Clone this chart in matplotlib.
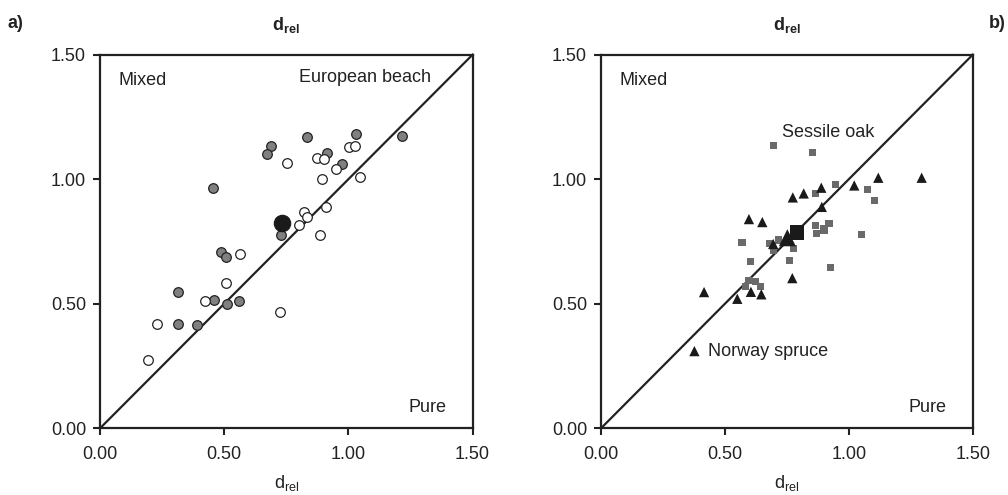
import matplotlib
matplotlib.use("Agg")
import matplotlib.pyplot as plt
from matplotlib import font_manager

# ---------------- data ----------------
ticks = [0.0, 0.5, 1.0, 1.5]
tick_labels = ["0.00", "0.50", "1.00", "1.50"]

# panel a) European beech
beech_grey_x = [0.687, 0.674, 0.832, 1.030, 0.915, 0.976, 1.215, 0.456, 0.728,
                0.489, 0.508, 0.313, 0.461, 0.512, 0.558, 0.313, 0.390]
beech_grey_y = [1.135, 1.102, 1.169, 1.183, 1.106, 1.063, 1.173, 0.966, 0.777,
                0.709, 0.686, 0.546, 0.515, 0.501, 0.512, 0.419, 0.414]
beech_white_x = [0.753, 0.873, 0.902, 1.004, 1.027, 0.952, 0.892, 1.045, 0.911,
                 0.822, 0.832, 0.801, 0.887, 0.563, 0.507, 0.423, 0.725, 0.229, 0.195]
beech_white_y = [1.064, 1.087, 1.080, 1.130, 1.135, 1.041, 1.000, 1.009, 0.889,
                 0.870, 0.850, 0.815, 0.777, 0.700, 0.584, 0.511, 0.468, 0.419, 0.275]
beech_mean_x = [0.731]
beech_mean_y = [0.826]

# panel b) Sessile oak (squares) and Norway spruce (triangles)
oak_x = [0.698, 0.853, 0.947, 1.075, 1.102, 0.864, 1.052, 0.569, 0.864, 0.897,
         0.920, 0.870, 0.900, 0.682, 0.716, 0.776, 0.604, 0.597, 0.624, 0.644,
         0.585, 0.759, 0.695, 0.927]
oak_y = [1.136, 1.106, 0.978, 0.959, 0.916, 0.941, 0.777, 0.745, 0.816, 0.803,
         0.823, 0.783, 0.796, 0.742, 0.756, 0.722, 0.671, 0.595, 0.591, 0.571,
         0.571, 0.674, 0.715, 0.644]
oak_mean_x = [0.791]
oak_mean_y = [0.786]
spruce_x = [1.119, 1.294, 1.022, 0.889, 0.818, 0.774, 0.891, 0.597, 0.651,
            0.695, 0.772, 0.416, 0.550, 0.605, 0.647]
spruce_y = [1.006, 1.006, 0.975, 0.966, 0.943, 0.927, 0.889, 0.840, 0.828,
            0.740, 0.603, 0.547, 0.520, 0.548, 0.538]
spruce_mean_x = [0.752]
spruce_mean_y = [0.765]

# ---------------- style ----------------
avail = {f.name for f in font_manager.fontManager.ttflist}
main_font = "Liberation Sans Narrow" if "Liberation Sans Narrow" in avail else "Liberation Sans"
plt.rcParams['font.family'] = [main_font, 'DejaVu Sans']
plt.rcParams['mathtext.fontset'] = 'custom'
plt.rcParams['mathtext.rm'] = main_font
plt.rcParams['mathtext.bf'] = main_font + ':bold'

ink = "#222222"
FS = 13

fig = plt.figure(figsize=(10.08, 4.95), dpi=100)
axa = fig.add_axes([0.0992, 0.1347, 0.3696, 0.7548])
axb = fig.add_axes([0.5962, 0.1347, 0.3688, 0.7548])

for ax in (axa, axb):
    ax.set_xlim(0, 1.5)
    ax.set_ylim(0, 1.5)
    ax.plot([0, 1.5], [0, 1.5], color=ink, lw=1.6, zorder=2, clip_on=False)
    ax.set_xticks(ticks)
    ax.set_yticks(ticks)
    ax.set_xticklabels(tick_labels)
    ax.set_yticklabels(tick_labels)
    ax.tick_params(direction='out', length=5, width=1.5, color=ink,
                   labelsize=FS, labelcolor=ink)
    ax.tick_params(axis='x', pad=8)
    ax.tick_params(axis='y', pad=5)
    for s in ax.spines.values():
        s.set_linewidth(1.6)
        s.set_color(ink)
    ax.set_xlabel(r'$\mathrm{d}_{\mathrm{rel}}$', fontsize=FS, color=ink, labelpad=7)
    ax.set_title(r'$\mathbf{d}_{\mathbf{rel}}$', fontsize=FS, color=ink, pad=18)
    ax.text(0.05, 0.93, "Mixed", transform=ax.transAxes, fontsize=FS, color=ink,
            ha='left', va='center')
    ax.text(0.93, 0.055, "Pure", transform=ax.transAxes, fontsize=FS, color=ink,
            ha='right', va='center')

# panel a
axa.scatter(beech_grey_x, beech_grey_y, s=48, marker='o', facecolor='#808080',
            edgecolor=ink, linewidth=0.9, zorder=3)
axa.scatter(beech_white_x, beech_white_y, s=48, marker='o', facecolor='white',
            edgecolor=ink, linewidth=0.9, zorder=3)
axa.scatter(beech_mean_x, beech_mean_y, s=140, marker='o', facecolor='#1a1a1a',
            edgecolor='#1a1a1a', linewidth=0.8, zorder=4)
axa.text(0.888, 0.94, "European beach", transform=axa.transAxes, fontsize=FS,
         color=ink, ha='right', va='center')

# panel b
axb.scatter(oak_x, oak_y, s=26, marker='s', facecolor='#6a6a6a', edgecolor='none', zorder=3)
axb.scatter(spruce_x, spruce_y, s=55, marker='^', facecolor='#1a1a1a', edgecolor='none', zorder=4)
axb.scatter(spruce_mean_x, spruce_mean_y, s=150, marker='^', facecolor='#1a1a1a',
            edgecolor='none', zorder=5)
axb.scatter(oak_mean_x, oak_mean_y, s=110, marker='s', facecolor='#1a1a1a',
            edgecolor='none', zorder=5)
axb.scatter([0.377], [0.310], s=55, marker='^', facecolor='#1a1a1a', edgecolor='none', zorder=4)
axb.text(0.43, 0.31, "Norway spruce", fontsize=FS, color=ink, ha='left', va='center')
axb.text(0.73, 1.186, "Sessile oak", fontsize=FS, color=ink, ha='left', va='center')

fig.text(8 / 1008, 1 - 23 / 495, "a)", fontsize=FS, fontweight='bold', color=ink,
         ha='left', va='center')
fig.text(1006 / 1008, 1 - 23 / 495, "b)", fontsize=FS, fontweight='bold', color=ink,
         ha='right', va='center')

fig.savefig("out.png", dpi=100)
